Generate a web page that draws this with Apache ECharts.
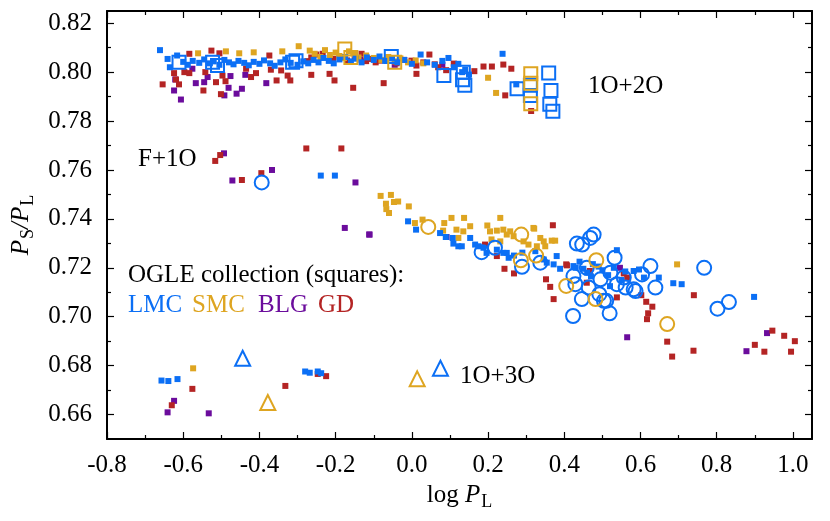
<!DOCTYPE html>
<html>
<head>
<meta charset="utf-8">
<script src="https://cdn.jsdelivr.net/npm/echarts@6/dist/echarts.min.js"></script>
<style>
  html, body { margin: 0; padding: 0; background: #fff; }
  #chart { width: 830px; height: 521px; }
</style>
</head>
<body>
<div id="chart"></div>
<script>
// tick positions
const xTicks = [-0.8, -0.6, -0.4, -0.2, 0.0, 0.2, 0.4, 0.6, 0.8, 1.0];
const xMinorTicks = [-0.7, -0.5, -0.3, -0.1, 0.1, 0.3, 0.5, 0.7, 0.9];
const yTicks = [0.66, 0.68, 0.70, 0.72, 0.74, 0.76, 0.78, 0.80, 0.82];
const yMinorTicks = [0.67, 0.69, 0.71, 0.73, 0.75, 0.77, 0.79, 0.81];

// OGLE collection, filled squares  [log PL, PS/PL]
const lmcSquares = [
  [-0.661, 0.8090], [-0.641, 0.8054], [-0.635, 0.8020], [-0.616, 0.8068], [-0.600, 0.8042],
  [-0.588, 0.8030], [-0.575, 0.8046], [-0.558, 0.8038], [-0.545, 0.8052], [-0.530, 0.8036],
  [-0.520, 0.8044], [-0.505, 0.8030], [-0.492, 0.8050], [-0.480, 0.8040], [-0.468, 0.8032],
  [-0.455, 0.8046], [-0.440, 0.8038], [-0.428, 0.8028], [-0.415, 0.8042], [-0.400, 0.8034],
  [-0.388, 0.8048], [-0.372, 0.8036], [-0.360, 0.8026], [-0.345, 0.8040], [-0.332, 0.8052],
  [-0.318, 0.8038], [-0.300, 0.8030], [-0.285, 0.8044], [-0.272, 0.8036], [-0.258, 0.8050],
  [-0.245, 0.8040], [-0.232, 0.8058], [-0.218, 0.8046], [-0.205, 0.8036], [-0.190, 0.8052],
  [-0.175, 0.8062], [-0.160, 0.8044], [-0.148, 0.8055], [-0.132, 0.8040], [-0.118, 0.8060],
  [-0.100, 0.8050], [-0.085, 0.8064], [-0.070, 0.8046], [-0.052, 0.8056], [-0.038, 0.8040],
  [-0.020, 0.8050], [0.000, 0.8034], [0.023, 0.8072], [0.040, 0.8040], [0.060, 0.8030],
  [0.080, 0.8046], [0.096, 0.8058], [0.110, 0.8020], [0.122, 0.8034], [0.132, 0.8000],
  [0.140, 0.8010], [0.150, 0.7990], [0.238, 0.8075], [0.274, 0.7950],
  [-0.239, 0.7577], [-0.202, 0.7577],
  [-0.010, 0.7390], [0.011, 0.7356], [0.074, 0.7342], [0.089, 0.7326], [0.107, 0.7322],
  [0.109, 0.7299], [0.122, 0.7288], [0.131, 0.7288], [0.153, 0.7322], [0.166, 0.7295],
  [0.175, 0.7288], [0.188, 0.7282], [0.196, 0.7261], [0.223, 0.7274], [0.240, 0.7261],
  [0.249, 0.7261], [0.254, 0.7241], [0.268, 0.7250], [0.290, 0.7262], [0.324, 0.7268],
  [0.346, 0.7234], [0.354, 0.7221], [0.372, 0.7214], [0.380, 0.7248], [0.389, 0.7196],
  [0.424, 0.7207], [0.430, 0.7200], [0.450, 0.7196], [0.460, 0.7180], [0.475, 0.7215],
  [0.500, 0.7190], [0.515, 0.7170], [0.538, 0.7272], [0.530, 0.7200], [0.550, 0.7150],
  [0.560, 0.7185], [0.582, 0.7187], [0.596, 0.7193], [0.609, 0.7160], [0.648, 0.7160],
  [0.686, 0.7137], [0.708, 0.7133], [0.898, 0.7081], [0.470, 0.7165], [0.490, 0.7205],
  [0.520, 0.7125], [0.440, 0.7225],
  [-0.657, 0.6739], [-0.639, 0.6737], [-0.615, 0.6745], [-0.280, 0.6776], [-0.268, 0.6771],
  [-0.247, 0.6776], [-0.238, 0.6769]
];
const smcSquares = [
  [-0.561, 0.8077], [-0.488, 0.8085], [-0.453, 0.8077], [-0.415, 0.8081], [-0.340, 0.8085],
  [-0.297, 0.8106], [-0.268, 0.8088], [-0.255, 0.8075], [-0.240, 0.8062], [-0.228, 0.8090],
  [-0.215, 0.8070], [-0.200, 0.8080], [-0.190, 0.8066], [-0.178, 0.8058], [-0.165, 0.8085],
  [-0.150, 0.8072], [-0.140, 0.8060], [-0.120, 0.8068], [-0.100, 0.8058], [-0.080, 0.8050],
  [-0.062, 0.8062], [-0.045, 0.8044], [-0.030, 0.8056], [-0.010, 0.8040], [0.010, 0.8048],
  [0.030, 0.8036], [0.200, 0.7977], [0.221, 0.7915],
  [-0.082, 0.7494], [-0.055, 0.7498], [-0.047, 0.7469], [-0.036, 0.7471], [-0.068, 0.7462],
  [-0.067, 0.7440], [-0.060, 0.7424], [-0.008, 0.7451], [0.008, 0.7383], [0.028, 0.7397],
  [0.085, 0.7383], [0.104, 0.7404], [0.137, 0.7404], [0.082, 0.7352], [0.117, 0.7356],
  [0.135, 0.7349], [0.153, 0.7370], [0.122, 0.7322], [0.198, 0.7373], [0.232, 0.7404],
  [0.205, 0.7349], [0.223, 0.7352], [0.240, 0.7356], [0.258, 0.7349], [0.267, 0.7329],
  [0.319, 0.7363], [0.337, 0.7322], [0.346, 0.7308], [0.367, 0.7311], [0.376, 0.7311],
  [0.293, 0.7308], [0.306, 0.7295], [0.328, 0.7288], [0.350, 0.7288], [0.209, 0.7316],
  [0.249, 0.7336], [0.232, 0.7308], [0.321, 0.7360], [0.696, 0.7214],
  [-0.574, 0.6789]
];
const blgSquares = [
  [-0.576, 0.8014], [-0.621, 0.7970], [-0.624, 0.7925], [-0.606, 0.7888], [-0.567, 0.7955],
  [-0.545, 0.7959], [-0.536, 0.7980], [-0.492, 0.7905], [-0.481, 0.7936], [-0.476, 0.7984],
  [-0.460, 0.7912], [-0.446, 0.7932], [-0.437, 0.7989], [-0.382, 0.7955], [-0.132, 0.8050],
  [-0.045, 0.8030], [0.080, 0.8030],
  [-0.493, 0.7668], [-0.471, 0.7557], [-0.367, 0.7600], [-0.148, 0.7549], [-0.176, 0.7363],
  [-0.111, 0.7336], [-0.112, 0.7336], [0.091, 0.7326], [0.546, 0.7200], [0.565, 0.6916],
  [0.932, 0.6933], [0.878, 0.6859],
  [-0.624, 0.6656], [-0.641, 0.6609], [-0.533, 0.6605]
];
const gdSquares = [
  [-0.654, 0.7950], [-0.624, 0.7996], [-0.619, 0.7970], [-0.611, 0.7950], [-0.597, 0.8000],
  [-0.584, 0.7996], [-0.584, 0.8075], [-0.542, 0.8000], [-0.547, 0.7925], [-0.526, 0.8088],
  [-0.514, 0.7959], [-0.505, 0.8077], [-0.501, 0.7910], [-0.497, 0.7986], [-0.489, 0.7963],
  [-0.435, 0.8014], [-0.422, 0.7980], [-0.409, 0.7996], [-0.374, 0.8068], [-0.370, 0.8010],
  [-0.355, 0.7966], [-0.343, 0.8007], [-0.326, 0.7986], [-0.319, 0.7966], [-0.274, 0.8045],
  [-0.264, 0.7989], [-0.264, 0.8060], [-0.251, 0.8072], [-0.234, 0.8075], [-0.216, 0.7993],
  [-0.207, 0.8054], [-0.203, 0.7966], [-0.190, 0.8062], [-0.170, 0.8048], [-0.154, 0.7936],
  [-0.150, 0.8058], [-0.132, 0.8075], [-0.120, 0.8045], [-0.111, 0.8054], [-0.095, 0.8040],
  [-0.084, 0.8047], [-0.074, 0.7955], [-0.060, 0.8058], [-0.040, 0.8036], [-0.020, 0.8050],
  [-0.001, 0.8047], [0.012, 0.8027], [0.012, 0.7993], [0.030, 0.8040], [0.046, 0.8072],
  [0.060, 0.8032], [0.069, 0.8020], [0.090, 0.8008], [0.110, 0.8035], [0.164, 0.8004],
  [0.188, 0.8023], [0.210, 0.8023], [0.240, 0.8031], [0.261, 0.8014], [0.245, 0.7905],
  [0.313, 0.7841],
  [-0.516, 0.7637], [-0.503, 0.7661], [-0.446, 0.7559], [-0.395, 0.7587], [-0.277, 0.7688],
  [-0.185, 0.7688],
  [0.370, 0.7374], [0.192, 0.7295], [0.223, 0.7248], [0.243, 0.7196], [0.268, 0.7177],
  [0.352, 0.7153], [0.363, 0.7122], [0.372, 0.7072], [0.405, 0.7214], [0.407, 0.7210],
  [0.467, 0.7187], [0.459, 0.7139], [0.538, 0.7079], [0.556, 0.7177], [0.565, 0.7160],
  [0.602, 0.7088], [0.615, 0.7061], [0.631, 0.7041], [0.620, 0.7014], [0.617, 0.6990],
  [0.740, 0.7088], [0.670, 0.6898], [0.683, 0.6837], [0.739, 0.6861], [0.900, 0.6885],
  [0.925, 0.6857], [0.946, 0.6943], [0.977, 0.6922], [1.005, 0.6900], [0.995, 0.6857],
  [-0.576, 0.6705], [-0.630, 0.6638], [-0.332, 0.6717], [-0.247, 0.6766], [-0.225, 0.6757]
];

// 1O+2O (open squares)
const lmcOpenSquares = [
  [-0.611, 0.8040], [-0.523, 0.8040], [-0.510, 0.8027], [-0.313, 0.8040], [-0.304, 0.8047],
  [-0.054, 0.8064], [0.084, 0.7986], [0.135, 0.8000], [0.133, 0.7969], [0.139, 0.7946],
  [0.276, 0.7932], [0.311, 0.7946], [0.311, 0.7905], [0.359, 0.7996], [0.365, 0.7925],
  [0.362, 0.7869], [0.370, 0.7840]
];
const smcOpenSquares = [
  [-0.176, 0.8095], [-0.160, 0.8060], [-0.045, 0.8040], [0.312, 0.7993], [0.312, 0.7955],
  [0.312, 0.7871]
];
// F+1O and 1O+1O type (open circles)
const lmcCircles = [
  [-0.394, 0.7549], [0.183, 0.7264], [0.218, 0.7282], [0.289, 0.7204], [0.337, 0.7221],
  [0.433, 0.7299], [0.447, 0.7295], [0.468, 0.7322], [0.477, 0.7336], [0.532, 0.7241],
  [0.626, 0.7207], [0.767, 0.7200], [0.802, 0.7033], [0.832, 0.7060], [0.424, 0.7166],
  [0.429, 0.7133], [0.446, 0.7072], [0.423, 0.7003], [0.464, 0.7119], [0.495, 0.7153],
  [0.521, 0.7180], [0.561, 0.7119], [0.587, 0.7105], [0.639, 0.7119], [0.492, 0.7092],
  [0.510, 0.7065], [0.519, 0.7014], [0.538, 0.7133], [0.604, 0.7173], [0.459, 0.7200],
  [0.556, 0.7160], [0.582, 0.7112], [0.504, 0.7065]
];
const smcCircles = [
  [0.043, 0.7367], [0.287, 0.7336], [0.326, 0.7250], [0.286, 0.7231], [0.484, 0.7231],
  [0.405, 0.7126], [0.482, 0.7072], [0.670, 0.6970]
];
// 1O+3O (open triangles)
const lmcTriangles = [[-0.444, 0.6830], [0.075, 0.6789]];
const smcTriangles = [[-0.378, 0.6649], [0.014, 0.6746]];

const BLUE = '#0b6ff5';
const GOLD = '#dea521';
const PURPLE = '#6b0c9c';
const RED = '#b42424';
const FONT = '"Liberation Serif", "Times New Roman", serif';

const chart = echarts.init(document.getElementById('chart'));

function xAxisCfg(pos, ticks, len, main) {
  return {
    type: 'value', position: pos, min: -0.8, max: 1.05,
    axisLine: { show: main, onZero: false, lineStyle: { color: '#000', width: 2 } },
    axisTick: { show: true, inside: true, length: len, customValues: ticks, lineStyle: { color: '#000', width: 1.2 } },
    axisLabel: { show: main && pos === 'bottom', customValues: ticks, margin: 14,
      formatter: v => v.toFixed(1), fontFamily: FONT, fontSize: 25, color: '#000' },
    splitLine: { show: false }
  };
}
function yAxisCfg(pos, ticks, len, main) {
  return {
    type: 'value', position: pos, min: 0.65, max: 0.825,
    axisLine: { show: main, onZero: false, lineStyle: { color: '#000', width: 2 } },
    axisTick: { show: true, inside: true, length: len, customValues: ticks, lineStyle: { color: '#000', width: 1.2 } },
    axisLabel: { show: main && pos === 'left', customValues: ticks, margin: 15,
      formatter: v => v.toFixed(2), fontFamily: FONT, fontSize: 25, color: '#000' },
    splitLine: { show: false }
  };
}

const xMain = xAxisCfg('bottom', xTicks, 7, true);
xMain.name = 'log {i|P}{s|L}';
xMain.nameLocation = 'middle';
xMain.nameGap = 40;
xMain.nameTextStyle = {
  fontFamily: FONT, fontSize: 25, color: '#000',
  rich: {
    i: { fontFamily: FONT, fontSize: 25, fontStyle: 'italic', color: '#000' },
    s: { fontFamily: FONT, fontSize: 18, color: '#000', padding: [14, 0, 0, 1] }
  }
};
const yMain = yAxisCfg('left', yTicks, 7, true);
yMain.name = '{i|P}{s|S}{n|/}{i|P}{s|L}';
yMain.nameLocation = 'middle';
yMain.nameRotate = 90;
yMain.nameGap = 70;
yMain.nameTextStyle = {
  fontFamily: FONT, fontSize: 25, color: '#000',
  rich: {
    i: { fontFamily: FONT, fontSize: 25, fontStyle: 'italic', color: '#000' },
    n: { fontFamily: FONT, fontSize: 25, fontStyle: 'italic', color: '#000' },
    s: { fontFamily: FONT, fontSize: 18, color: '#000', padding: [14, 0, 0, 1] }
  }
};

function filled(name, data, color) {
  return {
    name, type: 'scatter', data, symbol: 'rect', symbolSize: 6,
    itemStyle: { color, opacity: 1 }, z: 2
  };
}
function hollow(name, data, color, symbol, size) {
  return {
    name, type: 'scatter', data, symbol, symbolSize: size,
    itemStyle: { color: 'rgba(0,0,0,0)', borderColor: color, borderWidth: 2, opacity: 1 }, z: 3
  };
}

function label(text, left, top, color) {
  return {
    type: 'text', left, top,
    style: { text, fill: color, font: '25px ' + FONT }
  };
}

const option = {
  backgroundColor: '#fff',
  animation: false,
  grid: { left: 107, right: 18, top: 11, bottom: 82, containLabel: false },
  xAxis: [
    xMain,
    xAxisCfg('bottom', xMinorTicks, 4, false),
    xAxisCfg('top', xTicks, 7, true),
    xAxisCfg('top', xMinorTicks, 4, false)
  ],
  yAxis: [
    yMain,
    yAxisCfg('left', yMinorTicks, 4, false),
    yAxisCfg('right', yTicks, 7, true),
    yAxisCfg('right', yMinorTicks, 4, false)
  ],
  series: [
    filled('BLG', blgSquares, PURPLE),
    filled('GD', gdSquares, RED),
    filled('SMC', smcSquares, GOLD),
    filled('LMC', lmcSquares, BLUE),
    hollow('LMC 1O+2O', lmcOpenSquares, BLUE, 'rect', 13),
    hollow('SMC 1O+2O', smcOpenSquares, GOLD, 'rect', 13),
    hollow('LMC circles', lmcCircles, BLUE, 'circle', 14),
    hollow('SMC circles', smcCircles, GOLD, 'circle', 14),
    hollow('LMC 1O+3O', lmcTriangles, BLUE, 'triangle', 15),
    hollow('SMC 1O+3O', smcTriangles, GOLD, 'triangle', 15)
  ],
  graphic: [
    label('1O+2O', 588, 74, '#000'),
    label('F+1O', 138, 147, '#000'),
    label('1O+3O', 460, 364, '#000'),
    label('OGLE collection (squares):', 128, 263, '#000'),
    label('LMC', 128, 293, BLUE),
    label('SMC', 192, 293, GOLD),
    label('BLG', 258, 293, PURPLE),
    label('GD', 318, 293, RED)
  ]
};
chart.setOption(option);
</script>
</body>
</html>
